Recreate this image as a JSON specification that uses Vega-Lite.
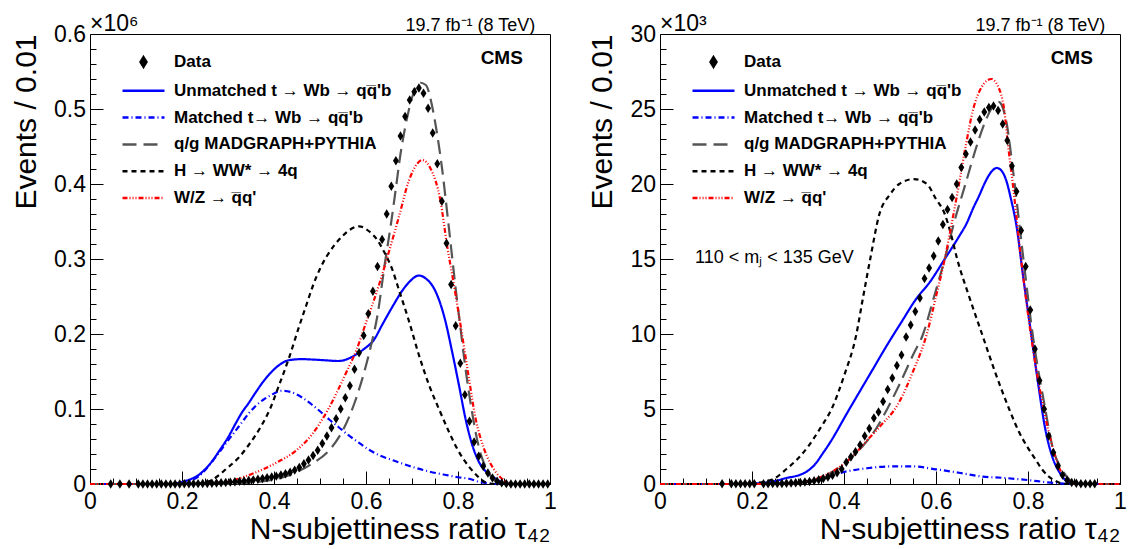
{
"$schema":"https://vega.github.io/schema/vega-lite/v6.json",
"padding":{"left":11,"top":12,"right":0,"bottom":0},
"config":{"font":"Liberation Sans","view":{"stroke":"black","strokeWidth":1},"axis":{"labelFont":"Liberation Sans","titleFont":"Liberation Sans","labelColor":"black","titleColor":"black","tickColor":"black","domain":false,"grid":false,"labelFlush":false,"labelOverlap":false,"titleFontWeight":"normal"},
"legend":{"orient":"none","legendX":32,"legendY":19.5,"title":null,"padding":0,"labelFont":"Liberation Sans","labelFontWeight":"bold","labelFontSize":17,"labelColor":"black","labelLimit":400,"symbolSize":64,"symbolOffset":13,"symbolStrokeWidth":2.5,"rowPadding":8.8,"labelOffset":22}},
"datasets":{
"leftPts":[{"x":0.045,"y":0},{"x":0.065,"y":0},{"x":0.085,"y":0},{"x":0.105,"y":0},{"x":0.115,"y":0},{"x":0.125,"y":0},{"x":0.135,"y":0},{"x":0.145,"y":0},{"x":0.155,"y":0},{"x":0.165,"y":0},{"x":0.175,"y":0},{"x":0.185,"y":0},{"x":0.195,"y":0},{"x":0.205,"y":0.0002},{"x":0.215,"y":0.0003},{"x":0.225,"y":0.0004},{"x":0.235,"y":0.0005},{"x":0.245,"y":0.0006},{"x":0.255,"y":0.0008},{"x":0.265,"y":0.001},{"x":0.275,"y":0.0013},{"x":0.285,"y":0.0016},{"x":0.295,"y":0.002},{"x":0.305,"y":0.0025},{"x":0.315,"y":0.003},{"x":0.325,"y":0.0035},{"x":0.335,"y":0.004},{"x":0.345,"y":0.0047},{"x":0.355,"y":0.0055},{"x":0.365,"y":0.0063},{"x":0.375,"y":0.0072},{"x":0.385,"y":0.0082},{"x":0.395,"y":0.0093},{"x":0.405,"y":0.0105},{"x":0.415,"y":0.012},{"x":0.425,"y":0.0137},{"x":0.435,"y":0.0157},{"x":0.445,"y":0.0185},{"x":0.455,"y":0.022},{"x":0.465,"y":0.027},{"x":0.475,"y":0.032},{"x":0.485,"y":0.038},{"x":0.495,"y":0.045},{"x":0.505,"y":0.054},{"x":0.515,"y":0.064},{"x":0.525,"y":0.075},{"x":0.535,"y":0.087},{"x":0.545,"y":0.1},{"x":0.555,"y":0.115},{"x":0.565,"y":0.131},{"x":0.575,"y":0.153},{"x":0.585,"y":0.175},{"x":0.595,"y":0.198},{"x":0.605,"y":0.227},{"x":0.615,"y":0.257},{"x":0.625,"y":0.29},{"x":0.635,"y":0.326},{"x":0.645,"y":0.36},{"x":0.655,"y":0.397},{"x":0.665,"y":0.431},{"x":0.675,"y":0.464},{"x":0.685,"y":0.49},{"x":0.695,"y":0.512},{"x":0.705,"y":0.523},{"x":0.715,"y":0.528},{"x":0.725,"y":0.521},{"x":0.735,"y":0.501},{"x":0.745,"y":0.468},{"x":0.755,"y":0.427},{"x":0.765,"y":0.377},{"x":0.775,"y":0.321},{"x":0.785,"y":0.266},{"x":0.795,"y":0.211},{"x":0.805,"y":0.161},{"x":0.815,"y":0.119},{"x":0.825,"y":0.0836},{"x":0.835,"y":0.056},{"x":0.845,"y":0.037},{"x":0.855,"y":0.0236},{"x":0.865,"y":0.0147},{"x":0.875,"y":0.008},{"x":0.885,"y":0.0036},{"x":0.895,"y":0.0015},{"x":0.905,"y":0.0005},{"x":0.915,"y":0},{"x":0.925,"y":0},{"x":0.935,"y":0},{"x":0.945,"y":0},{"x":0.955,"y":0},{"x":0.965,"y":0},{"x":0.975,"y":0},{"x":0.985,"y":0},{"x":0.995,"y":0}],
"leftCurves":[
{"k":"U","x":0,"y":0},{"k":"U","x":0.18,"y":0},{"k":"U","x":0.207,"y":0.004},{"k":"U","x":0.236,"y":0.012},{"k":"U","x":0.265,"y":0.03},{"k":"U","x":0.283,"y":0.046},{"k":"U","x":0.301,"y":0.063},{"k":"U","x":0.316,"y":0.08},{"k":"U","x":0.33,"y":0.095},{"k":"U","x":0.345,"y":0.108},{"k":"U","x":0.359,"y":0.121},{"k":"U","x":0.376,"y":0.136},{"k":"U","x":0.3955,"y":0.15},{"k":"U","x":0.41,"y":0.158},{"k":"U","x":0.432,"y":0.165},{"k":"U","x":0.46,"y":0.1665},{"k":"U","x":0.482,"y":0.166},{"k":"U","x":0.51,"y":0.165},{"k":"U","x":0.54,"y":0.164},{"k":"U","x":0.565,"y":0.168},{"k":"U","x":0.584,"y":0.175},{"k":"U","x":0.6,"y":0.182},{"k":"U","x":0.617,"y":0.192},{"k":"U","x":0.635,"y":0.212},{"k":"U","x":0.66,"y":0.239},{"k":"U","x":0.678,"y":0.257},{"k":"U","x":0.695,"y":0.27},{"k":"U","x":0.715,"y":0.278},{"k":"U","x":0.73,"y":0.274},{"k":"U","x":0.751,"y":0.257},{"k":"U","x":0.771,"y":0.221},{"k":"U","x":0.787,"y":0.177},{"k":"U","x":0.802,"y":0.132},{"k":"U","x":0.816,"y":0.088},{"k":"U","x":0.831,"y":0.052},{"k":"U","x":0.845,"y":0.03},{"k":"U","x":0.8635,"y":0.015},{"k":"U","x":0.885,"y":0.006},{"k":"U","x":0.9,"y":0.001},{"k":"U","x":0.92,"y":0},{"k":"U","x":1,"y":0},
{"k":"M","x":0,"y":0},{"k":"M","x":0.18,"y":0},{"k":"M","x":0.207,"y":0.003},{"k":"M","x":0.236,"y":0.01},{"k":"M","x":0.251,"y":0.019},{"k":"M","x":0.267,"y":0.031},{"k":"M","x":0.283,"y":0.044},{"k":"M","x":0.3,"y":0.058},{"k":"M","x":0.314,"y":0.069},{"k":"M","x":0.33,"y":0.082},{"k":"M","x":0.345,"y":0.094},{"k":"M","x":0.36,"y":0.104},{"k":"M","x":0.376,"y":0.112},{"k":"M","x":0.392,"y":0.118},{"k":"M","x":0.418,"y":0.1244},{"k":"M","x":0.44,"y":0.122},{"k":"M","x":0.462,"y":0.115},{"k":"M","x":0.48,"y":0.107},{"k":"M","x":0.5,"y":0.097},{"k":"M","x":0.52,"y":0.086},{"k":"M","x":0.54,"y":0.076},{"k":"M","x":0.56,"y":0.066},{"k":"M","x":0.58,"y":0.057},{"k":"M","x":0.6065,"y":0.0457},{"k":"M","x":0.63,"y":0.038},{"k":"M","x":0.657,"y":0.032},{"k":"M","x":0.68,"y":0.027},{"k":"M","x":0.7,"y":0.023},{"k":"M","x":0.735,"y":0.017},{"k":"M","x":0.774,"y":0.012},{"k":"M","x":0.8,"y":0.009},{"k":"M","x":0.824,"y":0.007},{"k":"M","x":0.845,"y":0.003},{"k":"M","x":0.865,"y":0.001},{"k":"M","x":0.88,"y":0},{"k":"M","x":1,"y":0},
{"k":"Q","x":0,"y":0},{"k":"Q","x":0.3,"y":0},{"k":"Q","x":0.35,"y":0.002},{"k":"Q","x":0.4,"y":0.006},{"k":"Q","x":0.446,"y":0.015},{"k":"Q","x":0.4825,"y":0.027},{"k":"Q","x":0.52,"y":0.045},{"k":"Q","x":0.55,"y":0.072},{"k":"Q","x":0.575,"y":0.108},{"k":"Q","x":0.6,"y":0.158},{"k":"Q","x":0.613,"y":0.19},{"k":"Q","x":0.625,"y":0.225},{"k":"Q","x":0.64,"y":0.29},{"k":"Q","x":0.655,"y":0.35},{"k":"Q","x":0.664,"y":0.39},{"k":"Q","x":0.675,"y":0.44},{"k":"Q","x":0.685,"y":0.475},{"k":"Q","x":0.7,"y":0.515},{"k":"Q","x":0.71,"y":0.53},{"k":"Q","x":0.7185,"y":0.535},{"k":"Q","x":0.73,"y":0.532},{"k":"Q","x":0.745,"y":0.5},{"k":"Q","x":0.755,"y":0.465},{"k":"Q","x":0.7655,"y":0.42},{"k":"Q","x":0.775,"y":0.37},{"k":"Q","x":0.785,"y":0.315},{"k":"Q","x":0.795,"y":0.26},{"k":"Q","x":0.805,"y":0.21},{"k":"Q","x":0.815,"y":0.16},{"k":"Q","x":0.825,"y":0.117},{"k":"Q","x":0.835,"y":0.08},{"k":"Q","x":0.845,"y":0.05},{"k":"Q","x":0.855,"y":0.03},{"k":"Q","x":0.865,"y":0.017},{"k":"Q","x":0.875,"y":0.008},{"k":"Q","x":0.889,"y":0.003},{"k":"Q","x":0.9,"y":0.001},{"k":"Q","x":0.915,"y":0},{"k":"Q","x":1,"y":0},
{"k":"H","x":0,"y":0},{"k":"H","x":0.22,"y":0},{"k":"H","x":0.24,"y":0.001},{"k":"H","x":0.267,"y":0.006},{"k":"H","x":0.283,"y":0.013},{"k":"H","x":0.294,"y":0.019},{"k":"H","x":0.323,"y":0.035},{"k":"H","x":0.345,"y":0.052},{"k":"H","x":0.37,"y":0.075},{"k":"H","x":0.392,"y":0.101},{"k":"H","x":0.41,"y":0.13},{"k":"H","x":0.4326,"y":0.168},{"k":"H","x":0.454,"y":0.209},{"k":"H","x":0.47,"y":0.238},{"k":"H","x":0.485,"y":0.265},{"k":"H","x":0.5,"y":0.287},{"k":"H","x":0.516,"y":0.305},{"k":"H","x":0.532,"y":0.319},{"k":"H","x":0.548,"y":0.33},{"k":"H","x":0.565,"y":0.339},{"k":"H","x":0.585,"y":0.3436},{"k":"H","x":0.6065,"y":0.337},{"k":"H","x":0.625,"y":0.325},{"k":"H","x":0.639,"y":0.31},{"k":"H","x":0.656,"y":0.288},{"k":"H","x":0.672,"y":0.258},{"k":"H","x":0.6935,"y":0.217},{"k":"H","x":0.715,"y":0.172},{"k":"H","x":0.737,"y":0.132},{"k":"H","x":0.76,"y":0.098},{"k":"H","x":0.78,"y":0.07},{"k":"H","x":0.8,"y":0.045},{"k":"H","x":0.824,"y":0.023},{"k":"H","x":0.84,"y":0.012},{"k":"H","x":0.852,"y":0.005},{"k":"H","x":0.865,"y":0.001},{"k":"H","x":0.88,"y":0},{"k":"H","x":1,"y":0},
{"k":"W","x":0,"y":0},{"k":"W","x":0.22,"y":0},{"k":"W","x":0.25,"y":0.0008},{"k":"W","x":0.301,"y":0.0036},{"k":"W","x":0.337,"y":0.01},{"k":"W","x":0.374,"y":0.019},{"k":"W","x":0.41,"y":0.03},{"k":"W","x":0.446,"y":0.0436},{"k":"W","x":0.4825,"y":0.066},{"k":"W","x":0.519,"y":0.101},{"k":"W","x":0.555,"y":0.146},{"k":"W","x":0.58,"y":0.18},{"k":"W","x":0.6,"y":0.215},{"k":"W","x":0.628,"y":0.265},{"k":"W","x":0.65,"y":0.31},{"k":"W","x":0.671,"y":0.355},{"k":"W","x":0.693,"y":0.404},{"k":"W","x":0.71,"y":0.426},{"k":"W","x":0.722,"y":0.432},{"k":"W","x":0.74,"y":0.421},{"k":"W","x":0.762,"y":0.377},{"k":"W","x":0.776,"y":0.319},{"k":"W","x":0.791,"y":0.266},{"k":"W","x":0.8055,"y":0.212},{"k":"W","x":0.815,"y":0.175},{"k":"W","x":0.824,"y":0.14},{"k":"W","x":0.838,"y":0.088},{"k":"W","x":0.856,"y":0.048},{"k":"W","x":0.881,"y":0.017},{"k":"W","x":0.9035,"y":0.0036},{"k":"W","x":0.92,"y":0},{"k":"W","x":1,"y":0}],
"rightPts":[{"x":0.135,"y":0.01},{"x":0.155,"y":0.01},{"x":0.165,"y":0.01},{"x":0.175,"y":0.01},{"x":0.185,"y":0.01},{"x":0.195,"y":0.01},{"x":0.205,"y":0.01},{"x":0.225,"y":0.02},{"x":0.235,"y":0.02},{"x":0.245,"y":0.03},{"x":0.255,"y":0.03},{"x":0.265,"y":0.04},{"x":0.275,"y":0.05},{"x":0.285,"y":0.06},{"x":0.295,"y":0.08},{"x":0.305,"y":0.1},{"x":0.315,"y":0.13},{"x":0.325,"y":0.17},{"x":0.335,"y":0.22},{"x":0.345,"y":0.28},{"x":0.355,"y":0.36},{"x":0.365,"y":0.46},{"x":0.375,"y":0.58},{"x":0.385,"y":0.75},{"x":0.395,"y":1.0},{"x":0.405,"y":1.45},{"x":0.415,"y":1.8},{"x":0.425,"y":2.15},{"x":0.435,"y":2.6},{"x":0.445,"y":3.2},{"x":0.455,"y":3.7},{"x":0.465,"y":4.4},{"x":0.475,"y":4.8},{"x":0.485,"y":5.5},{"x":0.495,"y":6.3},{"x":0.505,"y":7.06},{"x":0.515,"y":7.9},{"x":0.525,"y":8.6},{"x":0.535,"y":9.8},{"x":0.545,"y":10.6},{"x":0.555,"y":11.5},{"x":0.565,"y":12.4},{"x":0.575,"y":13.7},{"x":0.585,"y":14.4},{"x":0.595,"y":15.2},{"x":0.605,"y":16.2},{"x":0.615,"y":17.3},{"x":0.625,"y":18.3},{"x":0.635,"y":19.1},{"x":0.645,"y":20.0},{"x":0.655,"y":21.1},{"x":0.665,"y":22.0},{"x":0.675,"y":22.8},{"x":0.685,"y":23.6},{"x":0.695,"y":24.3},{"x":0.705,"y":24.8},{"x":0.715,"y":25.1},{"x":0.725,"y":25.2},{"x":0.735,"y":24.9},{"x":0.745,"y":24.0},{"x":0.755,"y":22.9},{"x":0.765,"y":21.2},{"x":0.775,"y":19.5},{"x":0.785,"y":16.9},{"x":0.795,"y":14.5},{"x":0.805,"y":11.6},{"x":0.815,"y":9.0},{"x":0.825,"y":6.9},{"x":0.835,"y":5.0},{"x":0.845,"y":3.2},{"x":0.855,"y":2.1},{"x":0.865,"y":1.2},{"x":0.875,"y":0.6},{"x":0.885,"y":0.25},{"x":0.895,"y":0.1},{"x":0.905,"y":0.05},{"x":0.915,"y":0.02},{"x":0.925,"y":0.01},{"x":0.935,"y":0.01},{"x":0.945,"y":0.01}],
"rightCurves":[
{"k":"U","x":0,"y":0},{"k":"U","x":0.18,"y":0},{"k":"U","x":0.2,"y":0.03},{"k":"U","x":0.228,"y":0.09},{"k":"U","x":0.25,"y":0.2},{"k":"U","x":0.275,"y":0.4},{"k":"U","x":0.306,"y":0.63},{"k":"U","x":0.32,"y":0.85},{"k":"U","x":0.3375,"y":1.33},{"k":"U","x":0.353,"y":2.0},{"k":"U","x":0.369,"y":2.73},{"k":"U","x":0.385,"y":3.55},{"k":"U","x":0.4,"y":4.37},{"k":"U","x":0.431,"y":6.0},{"k":"U","x":0.4625,"y":7.64},{"k":"U","x":0.494,"y":9.28},{"k":"U","x":0.525,"y":10.8},{"k":"U","x":0.556,"y":12.3},{"k":"U","x":0.5875,"y":13.5},{"k":"U","x":0.619,"y":15.0},{"k":"U","x":0.65,"y":16.5},{"k":"U","x":0.667,"y":17.4},{"k":"U","x":0.681,"y":18.4},{"k":"U","x":0.695,"y":19.3},{"k":"U","x":0.705,"y":20.0},{"k":"U","x":0.72,"y":20.8},{"k":"U","x":0.732,"y":21.07},{"k":"U","x":0.742,"y":20.9},{"k":"U","x":0.752,"y":20.3},{"k":"U","x":0.763,"y":19.0},{"k":"U","x":0.775,"y":17.2},{"k":"U","x":0.79,"y":13.7},{"k":"U","x":0.806,"y":10.2},{"k":"U","x":0.822,"y":6.7},{"k":"U","x":0.8375,"y":3.67},{"k":"U","x":0.853,"y":1.8},{"k":"U","x":0.869,"y":0.75},{"k":"U","x":0.884,"y":0.2},{"k":"U","x":0.9,"y":0.05},{"k":"U","x":0.92,"y":0},{"k":"U","x":1,"y":0},
{"k":"M","x":0,"y":0},{"k":"M","x":0.25,"y":0},{"k":"M","x":0.3,"y":0.05},{"k":"M","x":0.35,"y":0.35},{"k":"M","x":0.4,"y":0.8},{"k":"M","x":0.45,"y":1.05},{"k":"M","x":0.5,"y":1.17},{"k":"M","x":0.55,"y":1.17},{"k":"M","x":0.6,"y":0.98},{"k":"M","x":0.65,"y":0.75},{"k":"M","x":0.7,"y":0.5},{"k":"M","x":0.75,"y":0.4},{"k":"M","x":0.8,"y":0.26},{"k":"M","x":0.85,"y":0.09},{"k":"M","x":0.9,"y":0},{"k":"M","x":1,"y":0},
{"k":"Q","x":0,"y":0},{"k":"Q","x":0.28,"y":0},{"k":"Q","x":0.3,"y":0.05},{"k":"Q","x":0.34,"y":0.3},{"k":"Q","x":0.38,"y":0.9},{"k":"Q","x":0.41,"y":1.6},{"k":"Q","x":0.44,"y":2.5},{"k":"Q","x":0.47,"y":3.7},{"k":"Q","x":0.494,"y":5.0},{"k":"Q","x":0.52,"y":6.6},{"k":"Q","x":0.55,"y":8.6},{"k":"Q","x":0.572,"y":10.0},{"k":"Q","x":0.595,"y":12.4},{"k":"Q","x":0.619,"y":15.0},{"k":"Q","x":0.64,"y":17.5},{"k":"Q","x":0.664,"y":20.0},{"k":"Q","x":0.685,"y":22.2},{"k":"Q","x":0.705,"y":24.0},{"k":"Q","x":0.72,"y":25.0},{"k":"Q","x":0.736,"y":25.47},{"k":"Q","x":0.745,"y":25.1},{"k":"Q","x":0.755,"y":23.8},{"k":"Q","x":0.763,"y":22.0},{"k":"Q","x":0.771,"y":20.0},{"k":"Q","x":0.79,"y":15.0},{"k":"Q","x":0.81,"y":10.0},{"k":"Q","x":0.8375,"y":5.0},{"k":"Q","x":0.853,"y":2.5},{"k":"Q","x":0.873,"y":1.0},{"k":"Q","x":0.89,"y":0.3},{"k":"Q","x":0.905,"y":0},{"k":"Q","x":1,"y":0},
{"k":"H","x":0,"y":0},{"k":"H","x":0.18,"y":0},{"k":"H","x":0.2,"y":0.05},{"k":"H","x":0.244,"y":0.3},{"k":"H","x":0.275,"y":1.0},{"k":"H","x":0.3,"y":1.7},{"k":"H","x":0.322,"y":2.5},{"k":"H","x":0.35,"y":3.8},{"k":"H","x":0.373,"y":5.0},{"k":"H","x":0.4,"y":7.2},{"k":"H","x":0.427,"y":10.0},{"k":"H","x":0.44,"y":12.2},{"k":"H","x":0.457,"y":15.0},{"k":"H","x":0.477,"y":18.0},{"k":"H","x":0.5,"y":19.3},{"k":"H","x":0.52,"y":20.0},{"k":"H","x":0.552,"y":20.33},{"k":"H","x":0.58,"y":20.0},{"k":"H","x":0.6,"y":19.0},{"k":"H","x":0.619,"y":18.0},{"k":"H","x":0.633,"y":16.6},{"k":"H","x":0.646,"y":15.0},{"k":"H","x":0.672,"y":12.5},{"k":"H","x":0.7,"y":10.0},{"k":"H","x":0.728,"y":7.5},{"k":"H","x":0.759,"y":5.0},{"k":"H","x":0.78,"y":3.5},{"k":"H","x":0.798,"y":2.5},{"k":"H","x":0.815,"y":1.7},{"k":"H","x":0.83,"y":1.0},{"k":"H","x":0.845,"y":0.5},{"k":"H","x":0.86,"y":0.2},{"k":"H","x":0.88,"y":0},{"k":"H","x":1,"y":0},
{"k":"W","x":0,"y":0},{"k":"W","x":0.28,"y":0},{"k":"W","x":0.3,"y":0.05},{"k":"W","x":0.34,"y":0.35},{"k":"W","x":0.384,"y":1.0},{"k":"W","x":0.42,"y":1.9},{"k":"W","x":0.45,"y":2.9},{"k":"W","x":0.48,"y":3.9},{"k":"W","x":0.517,"y":5.3},{"k":"W","x":0.55,"y":7.5},{"k":"W","x":0.58,"y":10.0},{"k":"W","x":0.6,"y":12.5},{"k":"W","x":0.619,"y":15.0},{"k":"W","x":0.635,"y":17.5},{"k":"W","x":0.65,"y":20.0},{"k":"W","x":0.665,"y":22.6},{"k":"W","x":0.681,"y":25.0},{"k":"W","x":0.7,"y":26.5},{"k":"W","x":0.72,"y":27.0},{"k":"W","x":0.735,"y":26.5},{"k":"W","x":0.748,"y":25.0},{"k":"W","x":0.757,"y":22.5},{"k":"W","x":0.767,"y":20.0},{"k":"W","x":0.785,"y":15.0},{"k":"W","x":0.806,"y":10.0},{"k":"W","x":0.834,"y":5.0},{"k":"W","x":0.853,"y":2.5},{"k":"W","x":0.869,"y":1.0},{"k":"W","x":0.885,"y":0.3},{"k":"W","x":0.9,"y":0},{"k":"W","x":1,"y":0}]
},
"spacing":110,
"bounds":"flush",
"resolve":{"scale":{"color":"independent","strokeDash":"independent","y":"independent","x":"independent"},"legend":{"color":"independent","strokeDash":"independent"}},
"hconcat":[
{
"width":460,"height":450,
"resolve":{"axis":{"x":"independent","y":"independent"}},
"layer":[
{"data":{"name":"leftCurves"},
 "mark":{"type":"line","strokeWidth":2.2,"interpolate":"monotone"},
 "encoding":{
  "x":{"field":"x","type":"quantitative","scale":{"domain":[0,1],"nice":false,"zero":false},"axis":{"orient":"bottom","values":[0.05,0.1,0.15,0.2,0.25,0.3,0.35,0.4,0.45,0.5,0.55,0.6,0.65,0.7,0.75,0.8,0.85,0.9,0.95],"labels":false,"title":null,"tickSize":-6}},
  "y":{"field":"y","type":"quantitative","scale":{"domain":[0,0.6],"nice":false},"axis":{"orient":"left","values":[0.02,0.04,0.06,0.08,0.12,0.14,0.16,0.18,0.22,0.24,0.26,0.28,0.32,0.34,0.36,0.38,0.42,0.44,0.46,0.48,0.52,0.54,0.56,0.58],"labels":false,"title":null,"tickSize":-6}},
  "color":{"field":"k","type":"nominal","scale":{"domain":["D","U","M","Q","H","W"],"range":["black","#0000ff","#0000ff","#555555","black","#ff0000"]},
   "legend":{
    "labelExpr":"datum.value=='D'?'Data':datum.value=='U'?\"Unmatched t → Wb → qq̅'b\":datum.value=='M'?\"Matched t→ Wb → qq̅'b\":datum.value=='Q'?'q/g MADGRAPH+PYTHIA':datum.value=='H'?'H → WW* → 4q':\"W/Z → q̅q'\"",
    "encode":{"symbols":{"update":{"shape":{"signal":"datum.value=='D'?'M0,-1.2L0.74,0L0,1.2L-0.74,0Z':'M-5.25,0L5.25,0'"},"fill":{"signal":"datum.value=='D'?'black':'transparent'"}}}}}},
  "strokeDash":{"field":"k","type":"nominal","scale":{"domain":["D","U","M","Q","H","W"],"range":[[1,0],[1,0],[6,3,1,3],[14,7],[5,4],[5,2,1,2,1,2,1,2]]},
   "legend":{
    "labelExpr":"datum.value=='D'?'Data':datum.value=='U'?\"Unmatched t → Wb → qq̅'b\":datum.value=='M'?\"Matched t→ Wb → qq̅'b\":datum.value=='Q'?'q/g MADGRAPH+PYTHIA':datum.value=='H'?'H → WW* → 4q':\"W/Z → q̅q'\"",
    "encode":{"symbols":{"update":{"shape":{"signal":"datum.value=='D'?'M0,-1.2L0.74,0L0,1.2L-0.74,0Z':'M-5.25,0L5.25,0'"},"fill":{"signal":"datum.value=='D'?'black':'transparent'"}}}}}}
 }},
{"data":{"name":"leftPts"},
 "mark":{"type":"point","shape":"M0,-1L0.62,0L0,1L-0.62,0Z","filled":true,"color":"black","size":90,"opacity":1},
 "encoding":{
  "x":{"field":"x","type":"quantitative","axis":{"orient":"bottom","values":[0,0.2,0.4,0.6,0.8,1],"format":"~g","tickSize":-13,"labelFontSize":23,"labelPadding":19,"title":"N-subjettiness ratio τ₄₂","titleAnchor":"end","titleFontSize":30,"titlePadding":1}},
  "y":{"field":"y","type":"quantitative","axis":{"orient":"left","values":[0,0.1,0.2,0.3,0.4,0.5,0.6],"format":"~g","tickSize":-13,"labelFontSize":23,"labelPadding":17.5,"title":"Events / 0.01","titleAnchor":"end","titleFontSize":30,"titlePadding":12}}
 }},
{"data":{"values":[{"t":"×10⁶"}]},
 "mark":{"type":"text","align":"left","baseline":"alphabetic","fontSize":23,"dy":-3,"color":"black"},
 "encoding":{"x":{"datum":0,"axis":null},"y":{"datum":0.6,"axis":null},"text":{"field":"t"}}},
{"data":{"values":[{"t":"19.7 fb⁻¹ (8 TeV)"}]},
 "mark":{"type":"text","align":"right","baseline":"alphabetic","fontSize":18,"dy":-3,"color":"black"},
 "encoding":{"x":{"datum":0.968,"axis":null},"y":{"datum":0.6,"axis":null},"text":{"field":"t"}}},
{"data":{"values":[{"t":"CMS"}]},
 "mark":{"type":"text","align":"right","baseline":"alphabetic","fontSize":19,"fontWeight":"bold","color":"black"},
 "encoding":{"x":{"datum":0.941,"axis":null},"y":{"datum":0.56,"axis":null},"text":{"field":"t"}}}
]},
{
"width":460,"height":450,
"resolve":{"axis":{"x":"independent","y":"independent"}},
"layer":[
{"data":{"name":"rightCurves"},
 "mark":{"type":"line","strokeWidth":2.2,"interpolate":"monotone"},
 "encoding":{
  "x":{"field":"x","type":"quantitative","scale":{"domain":[0,1],"nice":false,"zero":false},"axis":{"orient":"bottom","values":[0.05,0.1,0.15,0.2,0.25,0.3,0.35,0.4,0.45,0.5,0.55,0.6,0.65,0.7,0.75,0.8,0.85,0.9,0.95],"labels":false,"title":null,"tickSize":-6}},
  "y":{"field":"y","type":"quantitative","scale":{"domain":[0,30],"nice":false},"axis":{"orient":"left","values":[1,2,3,4,6,7,8,9,11,12,13,14,16,17,18,19,21,22,23,24,26,27,28,29],"labels":false,"title":null,"tickSize":-6}},
  "color":{"field":"k","type":"nominal","scale":{"domain":["D","U","M","Q","H","W"],"range":["black","#0000ff","#0000ff","#555555","black","#ff0000"]},
   "legend":{
    "labelExpr":"datum.value=='D'?'Data':datum.value=='U'?\"Unmatched t → Wb → qq̅'b\":datum.value=='M'?\"Matched t→ Wb → qq̅'b\":datum.value=='Q'?'q/g MADGRAPH+PYTHIA':datum.value=='H'?'H → WW* → 4q':\"W/Z → q̅q'\"",
    "encode":{"symbols":{"update":{"shape":{"signal":"datum.value=='D'?'M0,-1.2L0.74,0L0,1.2L-0.74,0Z':'M-5.25,0L5.25,0'"},"fill":{"signal":"datum.value=='D'?'black':'transparent'"}}}}}},
  "strokeDash":{"field":"k","type":"nominal","scale":{"domain":["D","U","M","Q","H","W"],"range":[[1,0],[1,0],[6,3,1,3],[14,7],[5,4],[5,2,1,2,1,2,1,2]]},
   "legend":{
    "labelExpr":"datum.value=='D'?'Data':datum.value=='U'?\"Unmatched t → Wb → qq̅'b\":datum.value=='M'?\"Matched t→ Wb → qq̅'b\":datum.value=='Q'?'q/g MADGRAPH+PYTHIA':datum.value=='H'?'H → WW* → 4q':\"W/Z → q̅q'\"",
    "encode":{"symbols":{"update":{"shape":{"signal":"datum.value=='D'?'M0,-1.2L0.74,0L0,1.2L-0.74,0Z':'M-5.25,0L5.25,0'"},"fill":{"signal":"datum.value=='D'?'black':'transparent'"}}}}}}
 }},
{"data":{"name":"rightPts"},
 "mark":{"type":"point","shape":"M0,-1L0.62,0L0,1L-0.62,0Z","filled":true,"color":"black","size":90,"opacity":1},
 "encoding":{
  "x":{"field":"x","type":"quantitative","axis":{"orient":"bottom","values":[0,0.2,0.4,0.6,0.8,1],"format":"~g","tickSize":-13,"labelFontSize":23,"labelPadding":19,"title":"N-subjettiness ratio τ₄₂","titleAnchor":"end","titleFontSize":30,"titlePadding":1}},
  "y":{"field":"y","type":"quantitative","axis":{"orient":"left","values":[0,5,10,15,20,25,30],"format":"d","tickSize":-13,"labelFontSize":23,"labelPadding":17.5,"title":"Events / 0.01","titleAnchor":"end","titleFontSize":30,"titlePadding":12}}
 }},
{"data":{"values":[{"t":"×10³"}]},
 "mark":{"type":"text","align":"left","baseline":"alphabetic","fontSize":23,"dy":-3,"color":"black"},
 "encoding":{"x":{"datum":0,"axis":null},"y":{"datum":30,"axis":null},"text":{"field":"t"}}},
{"data":{"values":[{"t":"19.7 fb⁻¹ (8 TeV)"}]},
 "mark":{"type":"text","align":"right","baseline":"alphabetic","fontSize":18,"dy":-3,"color":"black"},
 "encoding":{"x":{"datum":0.968,"axis":null},"y":{"datum":30,"axis":null},"text":{"field":"t"}}},
{"data":{"values":[{"t":"CMS"}]},
 "mark":{"type":"text","align":"right","baseline":"alphabetic","fontSize":19,"fontWeight":"bold","color":"black"},
 "encoding":{"x":{"datum":0.941,"axis":null},"y":{"datum":28,"axis":null},"text":{"field":"t"}}},
{"data":{"values":[{"t":"110 < mⱼ < 135 GeV"}]},
 "mark":{"type":"text","align":"left","baseline":"alphabetic","fontSize":18,"color":"black"},
 "encoding":{"x":{"datum":0.076,"axis":null},"y":{"datum":14.73,"axis":null},"text":{"field":"t"}}}
]}
]
}
